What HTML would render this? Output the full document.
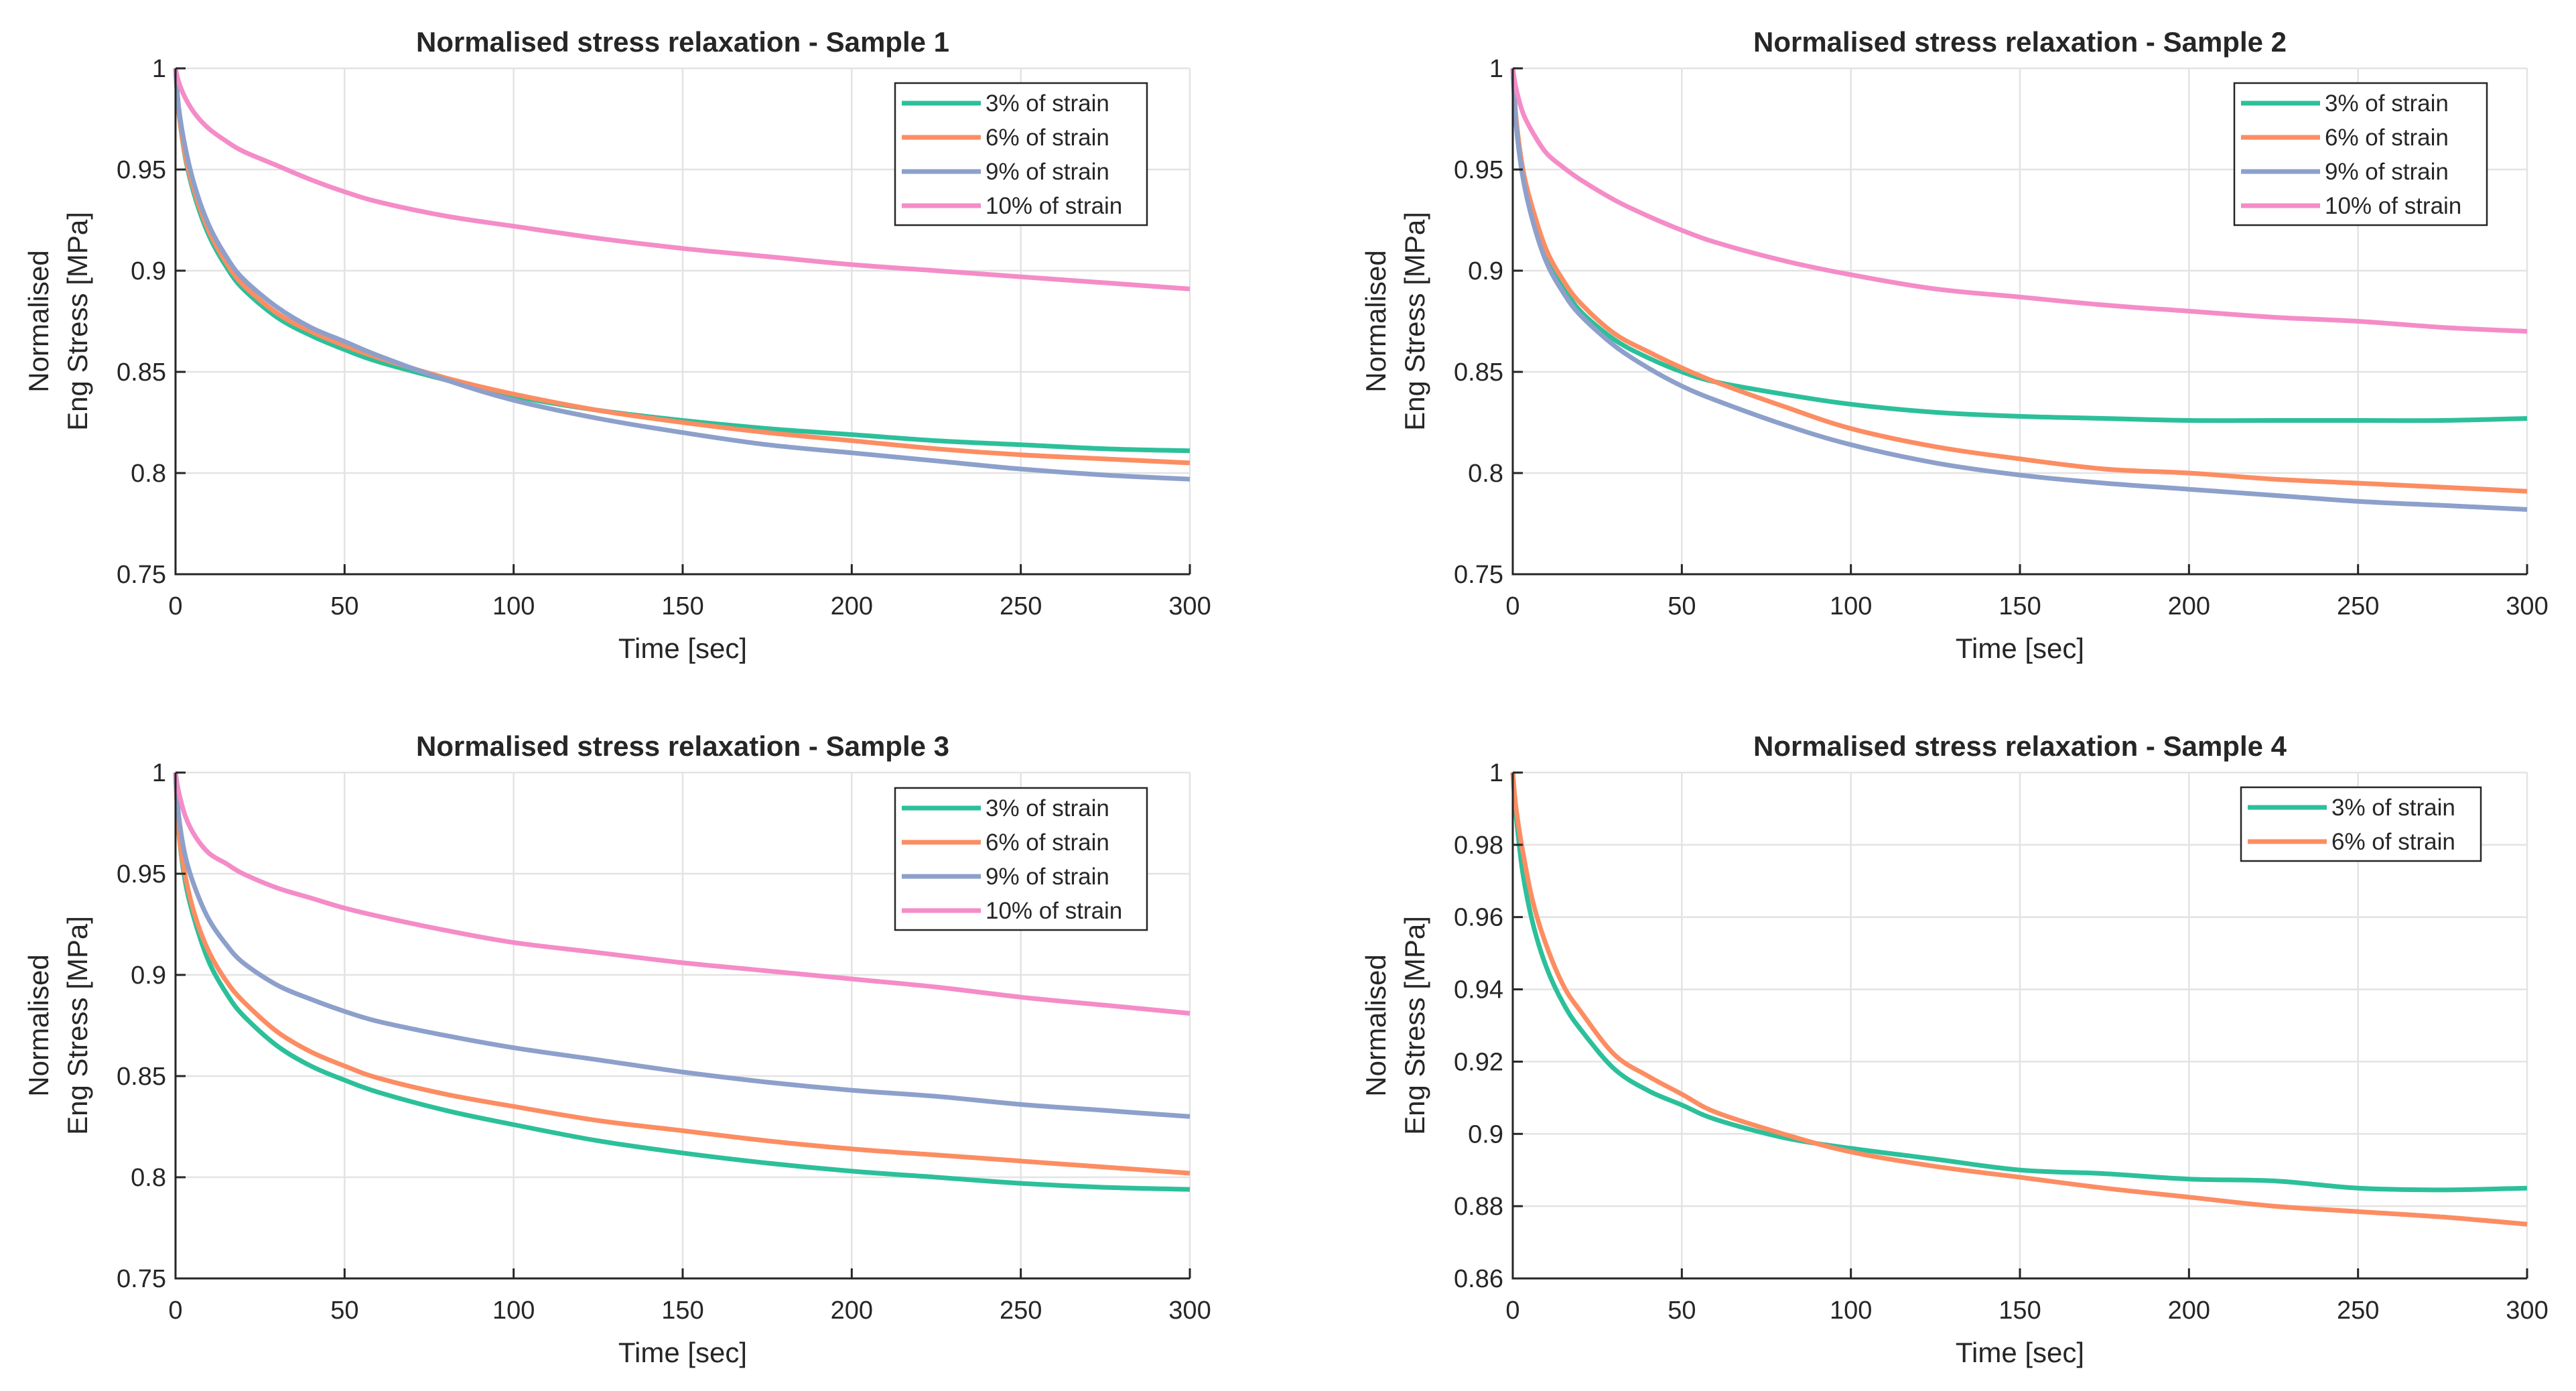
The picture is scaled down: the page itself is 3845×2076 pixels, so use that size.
<!DOCTYPE html>
<html><head><meta charset="utf-8"><style>
html,body{margin:0;padding:0;background:#fff}
svg{display:block}
text{font-family:"Liberation Sans",Arial,sans-serif;fill:#262626}
</style></head><body>
<svg id="fig" width="3845" height="2076" viewBox="0 0 3845 2076" xmlns="http://www.w3.org/2000/svg"></svg>
<script>
const times = [0,1,3,6,10,15,20,30,40,50,60,80,100,125,150,175,200,225,250,275,300];
const xTicks = [0,50,100,150,200,250,300];
const yTicksA = [0.75,0.8,0.85,0.9,0.95,1];
const yTicksB = [0.86,0.88,0.9,0.92,0.94,0.96,0.98,1];
const seriesNames = ["3% of strain","6% of strain","9% of strain","10% of strain"];
const s1_3 = [1,.978,.955,.935,.917,.902,.891,.877,.868,.861,.855,.846,.838,.831,.826,.822,.819,.816,.814,.812,.811];
const s1_6 = [1,.978,.956,.937,.919,.904,.893,.879,.870,.863,.857,.847,.839,.831,.825,.820,.816,.812,.809,.807,.805];
const s1_9 = [1,.98,.96,.94,.922,.907,.896,.882,.872,.865,.858,.846,.836,.827,.820,.814,.810,.806,.802,.799,.797];
const s1_10 = [1,.993,.985,.977,.97,.964,.959,.952,.945,.939,.934,.927,.922,.916,.911,.907,.903,.900,.897,.894,.891];
const s2_3 = [1,.975,.95,.928,.907,.892,.880,.866,.857,.850,.845,.839,.834,.830,.828,.827,.826,.826,.826,.826,.827];
const s2_6 = [1,.975,.95,.93,.91,.895,.884,.869,.86,.852,.845,.833,.822,.813,.807,.802,.800,.797,.795,.793,.791];
const s2_9 = [1,.972,.946,.924,.904,.889,.878,.863,.852,.843,.836,.824,.814,.805,.799,.795,.792,.789,.786,.784,.782];
const s2_10 = [1,.99,.978,.968,.958,.951,.945,.935,.927,.92,.914,.905,.898,.891,.887,.883,.880,.877,.875,.872,.870];
const s3_3 = [1,.97,.945,.925,.906,.891,.88,.865,.855,.848,.842,.833,.826,.818,.812,.807,.803,.800,.797,.795,.794];
const s3_6 = [1,.97,.948,.928,.911,.897,.887,.872,.862,.855,.849,.841,.835,.828,.823,.818,.814,.811,.808,.805,.802];
const s3_9 = [1,.978,.958,.942,.927,.915,.906,.895,.888,.882,.877,.870,.864,.858,.852,.847,.843,.840,.836,.833,.830];
const s3_10 = [1,.99,.978,.968,.96,.955,.95,.943,.938,.933,.929,.922,.916,.911,.906,.902,.898,.894,.889,.885,.881];
const s4_3 = [1,.988,.972,.958,.946,.936,.929,.918,.912,.908,.904,.899,.896,.893,.890,.889,.8875,.887,.885,.8845,.885];
const s4_6 = [1,.99,.978,.964,.952,.941,.934,.922,.916,.911,.906,.900,.895,.891,.888,.885,.8825,.880,.8785,.877,.875];

const colors = ["#2cc09a","#fc8d62","#8da0cb","#f48cc8"];
const NS = "http://www.w3.org/2000/svg";
const svg = document.getElementById('fig');
function mk(tag, attrs, parent){
  const e = document.createElementNS(NS, tag);
  for (const k in attrs) e.setAttribute(k, attrs[k]);
  (parent||svg).appendChild(e); return e;
}
function fmt(v){ return String(+v.toFixed(2)); }
function smoothPath(pts){
  let d = "M"+pts[0][0].toFixed(1)+","+pts[0][1].toFixed(1);
  for (let i=0;i<pts.length-1;i++){
    const p0=pts[Math.max(0,i-1)], p1=pts[i], p2=pts[i+1], p3=pts[Math.min(pts.length-1,i+2)];
    const c1=[p1[0]+(p2[0]-p0[0])/6, p1[1]+(p2[1]-p0[1])/6];
    const c2=[p2[0]-(p3[0]-p1[0])/6, p2[1]-(p3[1]-p1[1])/6];
    d += " C"+c1[0].toFixed(1)+","+c1[1].toFixed(1)+" "+c2[0].toFixed(1)+","+c2[1].toFixed(1)+" "+p2[0].toFixed(1)+","+p2[1].toFixed(1);
  }
  return d;
}
function panel(idx, L, T, title, yTicks, series, leg){
  const W=1514, H=755, R=L+W, B=T+H;
  const ymin=yTicks[0], ymax=yTicks[yTicks.length-1];
  const xs = t => L + t/300*W;
  const ys = v => B - (v-ymin)/(ymax-ymin)*H;
  const g = mk('g',{});
  
  
  xTicks.forEach(t=>{ if(t>0){ const l=mk('line',{x1:xs(t),x2:xs(t),y1:T,y2:B,stroke:'#e3e3e3','stroke-width':2.5},g);
      }});
  yTicks.forEach(v=>{ if(v>ymin){ const l=mk('line',{x1:L,x2:R,y1:ys(v),y2:ys(v),stroke:'#e3e3e3','stroke-width':2.5},g);
      }});
  series.forEach((arr,i)=>{
    const pts = times.map((t,j)=>[xs(t), ys(arr[j])]);
    const p = mk('path',{d:smoothPath(pts),fill:'none',stroke:colors[i],'stroke-width':7,'stroke-linejoin':'round'},g);
    
    
  });
  const ax = mk('path',{d:`M${L},${T} L${L},${B} L${R},${B}`,fill:'none',stroke:'#262626','stroke-width':3},g);
   
  xTicks.forEach(t=>{
    mk('line',{x1:xs(t),x2:xs(t),y1:B,y2:B-15,stroke:'#262626','stroke-width':3},g);
    const tx = mk('text',{x:xs(t),y:B+60,'font-size':38,'text-anchor':'middle'},g);
    tx.textContent=t;
     
  });
  yTicks.forEach(v=>{
    mk('line',{x1:L,x2:L+15,y1:ys(v),y2:ys(v),stroke:'#262626','stroke-width':3},g);
    const tx = mk('text',{x:L-14,y:ys(v)+13,'font-size':38,'text-anchor':'end'},g);
    tx.textContent=fmt(v);
     
  });
  const tt = mk('text',{x:L+W/2,y:T-25,'font-size':42,'font-weight':'bold','text-anchor':'middle',fill:'#000'},g);
  tt.textContent=title;  
  const xl = mk('text',{x:L+W/2,y:B+125,'font-size':42,'text-anchor':'middle'},g);
  xl.textContent='Time [sec]';  
  const cy=T+H/2;
  const y1 = mk('text',{x:L-190,y:cy,'font-size':42,'text-anchor':'middle',transform:`rotate(-90 ${L-190} ${cy})`},g);
  y1.textContent='Normalised';  
  const y2 = mk('text',{x:L-132,y:cy,'font-size':42,'text-anchor':'middle',transform:`rotate(-90 ${L-132} ${cy})`},g);
  y2.textContent='Eng Stress [MPa]';  
  const lg = mk('g',{},g);
   
  const n=series.length, rowH=51;
  mk('rect',{x:leg[0],y:leg[1],width:leg[2],height:n*rowH+8,fill:'#fff',stroke:'#262626','stroke-width':2.5},lg);
  for(let i=0;i<n;i++){
    const yy = leg[1]+30+i*rowH;
    const ln = mk('line',{x1:leg[0]+10,x2:leg[0]+128,y1:yy,y2:yy,stroke:colors[i],'stroke-width':7},lg);
     
    const tx = mk('text',{x:leg[0]+135,y:yy+12,'font-size':35},lg);
    tx.textContent=seriesNames[i];
     
  }
}
panel(1,262,102,'Normalised stress relaxation - Sample 1',yTicksA,[s1_3,s1_6,s1_9,s1_10],[1336,124,376]);
panel(2,2258,102,'Normalised stress relaxation - Sample 2',yTicksA,[s2_3,s2_6,s2_9,s2_10],[3335,124,377]);
panel(3,262,1153,'Normalised stress relaxation - Sample 3',yTicksA,[s3_3,s3_6,s3_9,s3_10],[1336,1176,376]);
panel(4,2258,1153,'Normalised stress relaxation - Sample 4',yTicksB,[s4_3,s4_6],[3345,1175,358]);
</script>
</body></html>
